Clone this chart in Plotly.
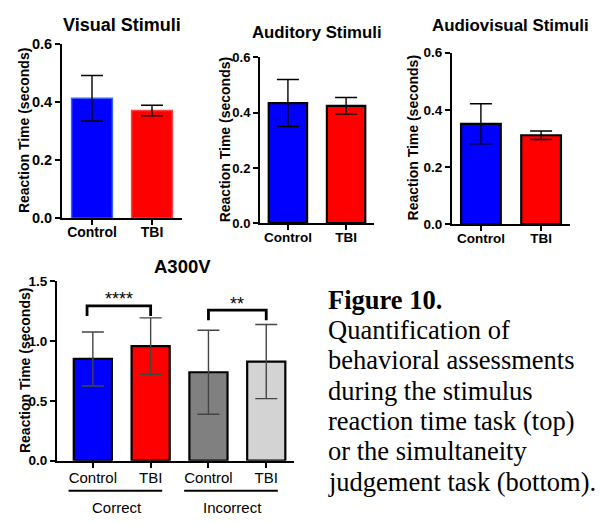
import plotly.graph_objects as go

W, H = 600, 523

# ---------------- data ----------------
groups = ["Control", "TBI"]
visual_mean = [0.413, 0.371]
visual_sd = [0.078, 0.018]
auditory_mean = [0.435, 0.425]
auditory_sd = [0.085, 0.030]
audiovisual_mean = [0.351, 0.311]
audiovisual_sd = [0.070, 0.015]

a300v_labels = ["Control", "TBI", "Control", "TBI"]
a300v_mean = [0.851, 0.959, 0.740, 0.829]
a300v_sd = [0.226, 0.236, 0.351, 0.310]
outcomes = ["Correct", "Incorrect"]
sig_labels = ["****", "**"]
sig_pairs = [(-0.1, 1), (2, 3)]

caption_title = "Figure 10."
caption_lines = ["Quantification of", "behavioral assessments", "during the stimulus",
                 "reaction time task (top)", "or the simultaneity", "judgement task (bottom)."]


def px(x):
    return x / W


def py(y):
    return 1 - y / H


SANS = "Liberation Sans"
SERIF = "Liberation Serif"

fig = go.Figure()
layout = dict(width=W, height=H, margin=dict(l=0, r=0, t=0, b=0),
              paper_bgcolor="white", plot_bgcolor="white", showlegend=False,
              annotations=[], shapes=[])

bold_tick = dict(family=SANS, size=13.5, color="black", weight="bold")
panels = [
    dict(title="Visual Stimuli", tsize=18, mean=visual_mean, sd=visual_sd, labels=groups,
         colors=["#0000ff", "#ff0000"], lines=["#3a64ff", "#ff4040"], lw=1.5,
         xd=(62, 182), yd=(37, 217), xr=[-0.5, 1.5], yr=[0, 0.6], dt=0.2,
         title_xy=(122, 18), lab_x=24, bw=0.68, ecol="black",
         tickfont=dict(family=SANS, size=14, color="black", weight="bold"), ysize=14.5, xstand=-5),
    dict(title="Auditory Stimuli", tsize=16.8, mean=auditory_mean, sd=auditory_sd, labels=groups,
         colors=["#0000ff", "#ff0000"], lines=["black", "black"], lw=2.2,
         xd=(260, 374), yd=(51, 222), xr=[-0.48, 1.48], yr=[0, 0.6], dt=0.2,
         title_xy=(317, 25), lab_x=225, bw=0.66, ecol="black", tickfont=bold_tick, ysize=13, xstand=-4),
    dict(title="Audiovisual Stimuli", tsize=16.9, mean=audiovisual_mean, sd=audiovisual_sd, labels=groups,
         colors=["#0000ff", "#ff0000"], lines=["black", "black"], lw=2.2,
         xd=(452, 570), yd=(46, 223), xr=[-0.48, 1.48], yr=[0, 0.6], dt=0.2,
         title_xy=(510, 18), lab_x=413, bw=0.66, ecol="black", tickfont=bold_tick, ysize=13.5, xstand=-4),
    dict(title="A300V", tsize=18.5, mean=a300v_mean, sd=a300v_sd, labels=a300v_labels,
         colors=["#0000ff", "#ff0000", "#808080", "#d3d3d3"], lines=["black"] * 4, lw=2.2,
         xd=(57, 294), yd=(282, 467), xr=[-0.62, 3.48], yr=[0, 1.5], dt=0.5,
         title_xy=(182, 267), lab_x=25, bw=0.66, ecol="#444444",
         tickfont=dict(family=SANS, size=15, color="black"), ysize=13.5, xstand=-3),
]

for i, p in enumerate(panels):
    n = i + 1
    xa = "x" if n == 1 else f"x{n}"
    ya = "y" if n == 1 else f"y{n}"
    xs = list(range(len(p["mean"])))
    fig.add_trace(go.Bar(
        x=xs, y=p["mean"], width=p["bw"], xaxis=xa, yaxis=ya,
        marker=dict(color=p["colors"], line=dict(color=p["lines"], width=p["lw"])),
        error_y=dict(type="data", array=p["sd"], color=p["ecol"], thickness=1.4, width=11),
    ))
    nt = int(round(p["yr"][1] / p["dt"])) + 1
    tv = [k * p["dt"] for k in range(nt)]
    layout["xaxis" if n == 1 else f"xaxis{n}"] = dict(
        domain=[px(p["xd"][0]), px(p["xd"][1])], anchor=ya, range=p["xr"],
        showline=True, linecolor="black", linewidth=2, showgrid=False, zeroline=False,
        ticks="outside", ticklen=5, tickwidth=2, tickcolor="black",
        tickvals=xs, ticktext=p["labels"], tickfont=p["tickfont"],
        ticklabelstandoff=p["xstand"], fixedrange=True)
    layout["yaxis" if n == 1 else f"yaxis{n}"] = dict(
        domain=[py(p["yd"][1]), py(p["yd"][0])], anchor=xa, range=p["yr"],
        showline=True, linecolor="black", linewidth=2, showgrid=False, zeroline=False,
        ticks="outside", ticklen=5, tickwidth=2, tickcolor="black",
        tickvals=tv, tickformat=".1f",
        tickfont=dict(family=SANS, size=p["ysize"], color="black", weight="bold"), fixedrange=True)
    layout["annotations"].append(dict(
        text=f"<b>{p['title']}</b>", x=px(p["title_xy"][0]), y=py(p["title_xy"][1]),
        xref="paper", yref="paper", showarrow=False, xanchor="center", yanchor="middle",
        font=dict(family=SANS, size=p["tsize"], color="black")))
    layout["annotations"].append(dict(
        text="<b>Reaction Time (seconds)</b>", x=px(p["lab_x"]),
        y=py((p["yd"][0] + p["yd"][1]) / 2), xref="paper", yref="paper", showarrow=False,
        textangle=-90, xanchor="center", yanchor="middle",
        font=dict(family=SANS, size=14, color="black")))

# significance brackets on A300V panel
offsets = [0.10, 0.12]
for k, (lab, (a, b)) in enumerate(zip(sig_labels, sig_pairs)):
    ia, ib = max(int(round(a)), 0), b
    top = max(a300v_mean[ia] + a300v_sd[ia], a300v_mean[ib] + a300v_sd[ib])
    yb = top + offsets[k]
    fig.add_trace(go.Scatter(
        x=[a, a, b, b], y=[yb - 0.085, yb, yb, yb - 0.085], mode="lines",
        line=dict(color="black", width=2.8), xaxis="x4", yaxis="y4", hoverinfo="skip"))
    layout["annotations"].append(dict(
        text=lab, x=(a + b) / 2, y=yb + 0.055, xref="x4", yref="y4", showarrow=False,
        xanchor="center", yanchor="middle", font=dict(family=SANS, size=18, color="black")))

# group lines and labels under A300V
for k, name in enumerate(outcomes):
    c0, c1 = 2 * k, 2 * k + 1
    layout["shapes"].append(dict(
        type="line", xref="x4", yref="paper", x0=c0 - 0.42, x1=c1 + 0.2,
        y0=py(498), y1=py(498), line=dict(color="black", width=1.8)))
    layout["annotations"].append(dict(
        text=name, x=(c0 + c1) / 2 - 0.08, y=py(515), xref="x4", yref="paper",
        showarrow=False, xanchor="center", yanchor="middle",
        font=dict(family=SANS, size=15, color="black")))

# caption
layout["annotations"].append(dict(
    text=f"<b>{caption_title}</b>", x=px(326), y=py(301), xref="paper", yref="paper",
    showarrow=False, xanchor="left", yanchor="middle",
    font=dict(family=SERIF, size=26.5, color="black")))
for j, line in enumerate(caption_lines):
    layout["annotations"].append(dict(
        text=line, x=px(326), y=py(332 + j * 31.3), xref="paper", yref="paper",
        showarrow=False, xanchor="left", yanchor="middle",
        font=dict(family=SERIF, size=26.5, color="black")))

fig.update_layout(**layout)
fig.write_html("out.html")
